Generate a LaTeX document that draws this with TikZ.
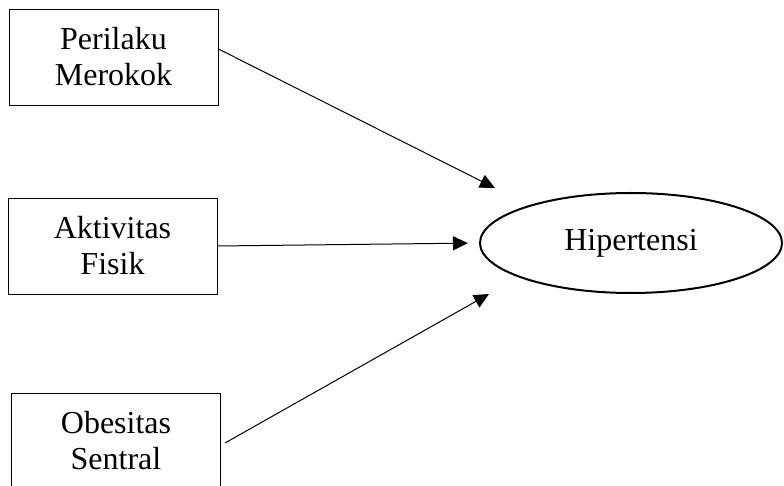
\documentclass[tikz,border=0pt]{standalone}
\usepackage{fontspec}
\setmainfont{Liberation Serif}
\usetikzlibrary{arrows.meta, shapes.geometric, positioning}

\tikzset{
    varbox/.style={draw, line width=0.9pt, minimum width=209pt, minimum height=96pt, align=center, font=\fontsize{32}{36}\selectfont},
    depvar/.style={draw, ellipse, line width=2pt, minimum width=302pt, minimum height=100pt, font=\fontsize{32}{36}\selectfont},
    arr/.style={line width=1pt, -{Triangle[length=15pt,width=14pt]}}
}

\begin{document}
\begin{tikzpicture}[x=1pt, y=-1pt]
\useasboundingbox (0,0) rectangle (784,486);
\clip (0,0) rectangle (784,486);
\node[varbox] (perilaku) at (113.5,57) {Perilaku\\Merokok};
\node[varbox] (aktivitas) at (112.5,246) {Aktivitas\\Fisik};
\node[varbox] (obesitas) at (116,441) {Obesitas\\Sentral};
\node[depvar] (hip) at (631,243) {Hipertensi};
% ujung panah
\coordinate (T1) at (495,188);
\coordinate (T3) at (489,294);
\draw[arr] ([yshift=8pt]perilaku.east) -- (T1);
\draw[arr, shorten >=11pt] (aktivitas.east) -- (hip.west);
\draw[arr] ([xshift=4pt,yshift=-2pt]obesitas.east) -- (T3);
\end{tikzpicture}
\end{document}
